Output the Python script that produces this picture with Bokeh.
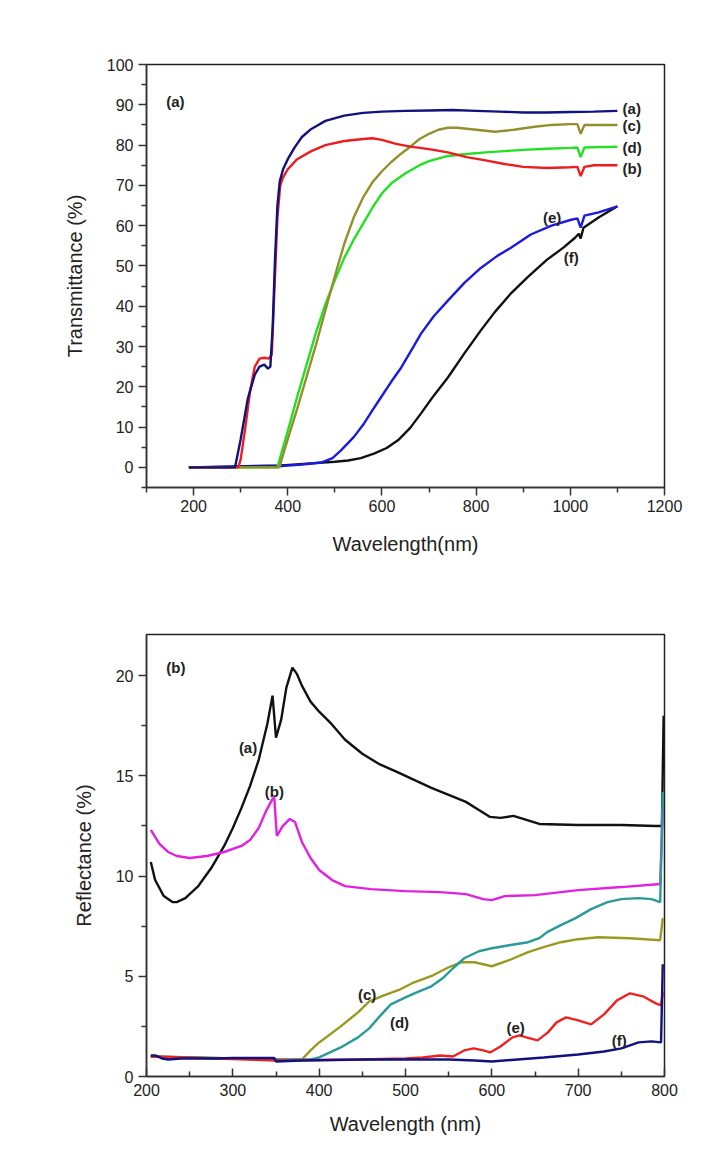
from bokeh.plotting import figure
from bokeh.layouts import column
from bokeh.models import FixedTicker
from bokeh.core.properties import value
from bokeh.embed import file_html
from bokeh.resources import INLINE

# ---------------- Panel (a): Transmittance ----------------
wl_ta = [190, 288, 300, 315, 330, 340, 350, 358, 363, 368, 373, 378, 383, 390, 400, 415, 430, 450, 480, 520, 560, 600, 650, 700, 750, 800, 850, 900, 950, 1000, 1050, 1100]
t_a = [0, 0, 7, 17, 23, 25, 25.5, 24.5, 25, 35, 52, 65, 71, 74, 76.5, 79.5, 82, 84, 86, 87.3, 88, 88.3, 88.5, 88.6, 88.7, 88.5, 88.3, 88.1, 88.1, 88.2, 88.3, 88.5]

wl_tb = [190, 295, 300, 310, 320, 330, 340, 350, 360, 366, 372, 378, 384, 390, 400, 420, 450, 480, 520, 560, 580, 600, 630, 660, 700, 740, 780, 820, 860, 900, 950, 1000, 1015, 1022, 1030, 1050, 1100]
t_b = [0, 0, 2, 10, 19, 25, 27, 27.2, 27, 28, 45, 62, 70, 72, 74, 76.5, 78.5, 80, 81, 81.5, 81.7, 81.3, 80.3, 79.6, 79.0, 78.2, 77.0, 76.2, 75.3, 74.6, 74.3, 74.5, 74.6, 72.3, 74.6, 75, 75]

wl_tc = [190, 382, 400, 420, 440, 460, 480, 500, 520, 540, 560, 580, 600, 620, 640, 660, 680, 700, 720, 740, 760, 800, 840, 880, 920, 960, 1000, 1015, 1022, 1030, 1060, 1100]
t_c = [0, 0, 7, 14.5, 22.5, 30.5, 39, 47.5, 55.5, 62, 67, 70.8, 73.5, 75.8, 77.8, 79.6, 81.5, 82.8, 83.8, 84.3, 84.3, 83.8, 83.3, 83.8, 84.5, 85, 85.2, 85.2, 82.8, 85, 85, 85]

wl_td = [190, 378, 400, 420, 440, 460, 480, 500, 520, 540, 560, 580, 600, 620, 650, 680, 700, 740, 780, 820, 860, 900, 950, 1000, 1015, 1022, 1030, 1060, 1100]
t_d = [0, 0, 9, 17.5, 25.5, 33.5, 40.5, 46.5, 52, 56.5, 60.5, 64.5, 68, 70.5, 73, 75, 76, 77.3, 77.8, 78.2, 78.5, 78.8, 79.1, 79.3, 79.4, 77, 79.4, 79.5, 79.6]

wl_te = [190, 386, 430, 471, 495, 513, 540, 562, 580, 598, 620, 641, 662, 683, 710, 740, 775, 810, 845, 874, 916, 960, 1000, 1015, 1022, 1030, 1060, 1100]
t_e = [0, 0.3, 0.7, 1.2, 2.3, 4.2, 7.5, 10.9, 14.2, 17.4, 21.3, 24.8, 29, 33.2, 37.5, 41.4, 45.8, 49.5, 52.5, 54.5, 57.8, 60, 61.4, 61.8, 59.5, 62.5, 63.3, 64.8]

wl_tf = [190, 386, 450, 500, 528, 555, 583, 610, 634, 660, 683, 710, 740, 775, 810, 840, 874, 910, 950, 986, 1010, 1018, 1022, 1028, 1060, 1100]
t_f = [0, 0.5, 1.0, 1.4, 1.7, 2.3, 3.4, 4.8, 6.7, 9.8, 13.4, 17.8, 22.3, 28.3, 34, 38.6, 43.2, 47.3, 51.5, 54.6, 57, 58, 56.8, 59.5, 62, 64.8]

t_xticks = [200, 400, 600, 800, 1000, 1200]
t_xminor = [100, 300, 500, 700, 900, 1100]
t_yticks = [0, 10, 20, 30, 40, 50, 60, 70, 80, 90, 100]
t_yminor = [-5, 5, 15, 25, 35, 45, 55, 65, 75, 85, 95]

t_labels = ["(a)", "(c)", "(d)", "(b)", "(e)", "(f)", "(a)"]

# ---------------- Panel (b): Reflectance ----------------
wl_ra = [205, 210, 220, 230, 235, 245, 260, 275, 290, 300, 310, 320, 330, 340, 346, 350, 356, 362, 369, 374, 380, 390, 400, 414, 430, 450, 469, 490, 510, 530, 550, 570, 585, 598, 610, 625, 640, 655, 700, 750, 790, 797, 799]
r_a = [10.7, 9.8, 9.0, 8.7, 8.7, 8.9, 9.5, 10.4, 11.5, 12.4, 13.4, 14.5, 15.8, 17.6, 19.0, 16.9, 17.8, 19.4, 20.4, 20.1, 19.5, 18.7, 18.2, 17.6, 16.8, 16.1, 15.6, 15.2, 14.8, 14.4, 14.05, 13.7, 13.3, 12.95, 12.9, 13.0, 12.8, 12.6, 12.55, 12.55, 12.5, 12.5, 18.0]

wl_rb = [205, 215, 225, 235, 250, 270, 290, 310, 320, 330, 338, 346, 348, 351, 358, 366, 372, 380, 390, 400, 415, 430, 460, 500, 540, 570, 590, 600, 615, 650, 700, 750, 795, 798]
r_b = [12.3, 11.6, 11.2, 11.0, 10.9, 11.0, 11.2, 11.5, 11.8, 12.4, 13.2, 13.85, 13.9, 12.0, 12.5, 12.85, 12.7, 11.7, 10.9, 10.3, 9.8, 9.5, 9.35, 9.25, 9.2, 9.1, 8.85, 8.8, 9.0, 9.05, 9.3, 9.45, 9.6, 13.3]

wl_rc = [205, 350, 380, 390, 400, 425, 445, 458, 475, 494, 510, 532, 550, 565, 580, 600, 620, 642, 660, 680, 700, 723, 760, 795, 798]
r_c = [1.0, 0.85, 0.85, 1.3, 1.7, 2.5, 3.2, 3.75, 4.05, 4.35, 4.7, 5.05, 5.45, 5.7, 5.7, 5.5, 5.8, 6.2, 6.45, 6.7, 6.85, 6.95, 6.9, 6.8, 7.9]

wl_rd = [205, 350, 390, 400, 425, 445, 458, 470, 483, 500, 513, 530, 543, 555, 568, 585, 600, 620, 642, 655, 664, 680, 697, 715, 734, 750, 770, 785, 795, 798]
r_d = [1.0, 0.85, 0.85, 0.95, 1.45, 1.95, 2.4, 3.0, 3.6, 3.95, 4.2, 4.5, 4.9, 5.4, 5.9, 6.25, 6.4, 6.55, 6.7, 6.9, 7.2, 7.55, 7.9, 8.35, 8.7, 8.85, 8.9, 8.85, 8.7, 14.2]

wl_re = [205, 350, 450, 500, 520, 540, 555, 568, 579, 590, 598, 610, 624, 632, 640, 653, 665, 675, 686, 700, 715, 730, 745, 760, 775, 790, 796, 798]
r_e = [1.0, 0.8, 0.85, 0.9, 0.95, 1.05, 1.0, 1.3, 1.4, 1.3, 1.2, 1.5, 1.95, 2.05, 1.95, 1.8, 2.2, 2.7, 2.95, 2.8, 2.6, 3.1, 3.8, 4.15, 4.0, 3.65, 3.55, 4.2]

wl_rf = [205, 210, 218, 225, 240, 280, 300, 348, 350, 380, 450, 500, 550, 580, 600, 630, 660, 700, 730, 750, 770, 785, 796, 798]
r_f = [1.05, 1.05, 0.9, 0.85, 0.9, 0.9, 0.92, 0.92, 0.75, 0.8, 0.85, 0.85, 0.85, 0.8, 0.75, 0.85, 0.95, 1.1, 1.25, 1.4, 1.7, 1.75, 1.7, 5.6]

r_xticks = [200, 300, 400, 500, 600, 700, 800]
r_xminor = [250, 350, 450, 550, 650, 750]
r_yticks = [0, 5, 10, 15, 20]
r_yminor = [2.5, 7.5, 12.5, 17.5]

r_labels = ["(b)", "(a)", "(b)", "(c)", "(d)", "(e)", "(f)"]

# ---------------- styling ----------------
FONT = "Liberation Sans"
AX = "#333333"


def style(p, xt, xm, yt, ym, xin):
    p.xgrid.visible = False
    p.ygrid.visible = False
    p.outline_line_color = "#222222"
    p.outline_line_width = 1.5
    p.background_fill_color = "white"
    p.border_fill_color = "white"
    p.xaxis.ticker = FixedTicker(ticks=xt, minor_ticks=xm)
    p.yaxis.ticker = FixedTicker(ticks=yt, minor_ticks=ym)
    for ax in (p.xaxis[0], p.yaxis[0]):
        ax.axis_line_color = AX
        ax.axis_line_width = 1.5
        ax.major_tick_line_color = AX
        ax.minor_tick_line_color = AX
        ax.major_tick_line_width = 1.5
        ax.minor_tick_line_width = 1.5
        ax.major_label_text_font = FONT
        ax.major_label_text_font_size = "16px"
        ax.major_label_text_color = "#222222"
        ax.axis_label_text_font = FONT
        ax.axis_label_text_font_size = "20px"
        ax.axis_label_text_font_style = "normal"
        ax.axis_label_text_color = "#222222"
    p.yaxis.major_tick_out = 8
    p.yaxis.major_tick_in = 0
    p.yaxis.minor_tick_out = 5
    p.yaxis.minor_tick_in = 0
    p.yaxis.major_label_standoff = 5
    p.yaxis.axis_label_standoff = 18
    if xin:
        p.xaxis.major_tick_in = 8
        p.xaxis.major_tick_out = 0
        p.xaxis.minor_tick_in = 5
        p.xaxis.minor_tick_out = 0
        p.xaxis.major_label_standoff = 7
        p.xaxis.axis_label_standoff = 14
    else:
        p.xaxis.major_tick_out = 8
        p.xaxis.major_tick_in = 0
        p.xaxis.minor_tick_out = 5
        p.xaxis.minor_tick_in = 0
        p.xaxis.major_label_standoff = 4
        p.xaxis.axis_label_standoff = 18


LW = 2.4

# Top figure
p1 = figure(width=705, height=600, x_range=(100, 1200), y_range=(-5, 100),
            output_backend="svg", toolbar_location=None,
            min_border_left=145, min_border_right=41, min_border_top=64, min_border_bottom=113,
            x_axis_label="Wavelength(nm)", y_axis_label="Transmittance (%)")
style(p1, t_xticks, t_xminor, t_yticks, t_yminor, False)

p1.line(wl_tf, t_f, line_color="#111111", line_width=LW)
p1.line(wl_te, t_e, line_color="#1a1ae0", line_width=LW)
p1.line(wl_td, t_d, line_color="#22e022", line_width=LW)
p1.line(wl_tc, t_c, line_color="#948f2c", line_width=LW)
p1.line(wl_tb, t_b, line_color="#ee1c1c", line_width=LW)
p1.line(wl_ta, t_a, line_color="#12127e", line_width=LW)

t_lab_x = [1111, 1111, 1111, 1111, 942, 986, 142]
t_lab_y = [89.1, 84.9, 79.4, 74.2, 62, 52.1, 90.8]
p1.text(x=t_lab_x, y=t_lab_y, text=t_labels, text_font=value(FONT), text_font_style="bold",
        text_font_size="15px", text_baseline="middle", text_align="left", text_color="#222222")

# Bottom figure
p2 = figure(width=705, height=551, x_range=(200, 800), y_range=(0, 22.05),
            output_backend="svg", toolbar_location=None,
            min_border_left=146, min_border_right=15, min_border_top=34, min_border_bottom=75,
            x_axis_label="Wavelength (nm)", y_axis_label="Reflectance (%)")
style(p2, r_xticks, r_xminor, r_yticks, r_yminor, True)

p2.line(wl_ra, r_a, line_color="#111111", line_width=LW)
p2.line(wl_rb, r_b, line_color="#e022e0", line_width=LW)
p2.line(wl_rc, r_c, line_color="#9a9a22", line_width=LW)
p2.line(wl_rd, r_d, line_color="#2a9a9a", line_width=LW)
p2.line(wl_re, r_e, line_color="#ee2222", line_width=LW)
p2.line(wl_rf, r_f, line_color="#12127e", line_width=LW)

r_lab_x = [223, 307, 337, 445, 482, 617, 739]
r_lab_y = [20.4, 16.4, 14.2, 4.1, 2.7, 2.45, 1.8]
p2.text(x=r_lab_x, y=r_lab_y, text=r_labels, text_font=value(FONT), text_font_style="bold",
        text_font_size="15px", text_baseline="middle", text_align="left", text_color="#222222")

layout = column(p1, p2, spacing=0)
open("out.html", "w").write(file_html(layout, INLINE))
